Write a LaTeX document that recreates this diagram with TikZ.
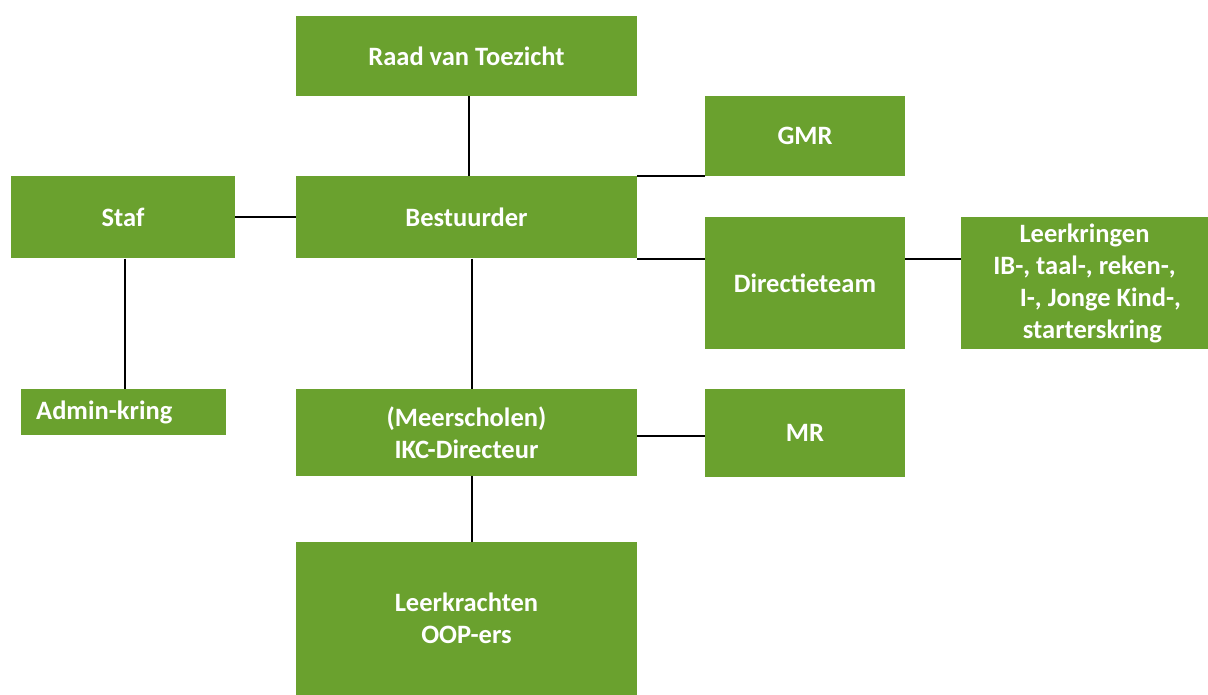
\documentclass[tikz,border=0pt]{standalone}
\usepackage{fontspec}
\setmainfont{Carlito}
\definecolor{orggreen}{RGB}{106,161,46}
\tikzset{
  orgbox/.style={fill=orggreen, text=white, inner sep=0pt, align=center,
    font=\fontsize{26.5}{32}\selectfont\bfseries},
  orgline/.style={line width=2pt, black}
}
\begin{document}
\begin{tikzpicture}[x=1pt, y=-1pt, line join=round]
			\useasboundingbox (0,0) rectangle (1208,695);
			\node[orgbox, minimum width=341pt, minimum height=80pt] (raad) at (466.5,56) {Raad van Toezicht};
			\node[orgbox, minimum width=200pt, minimum height=80pt] (gmr) at (805,136) {GMR};
			\node[orgbox, minimum width=224pt, minimum height=82pt] (staf) at (123,217.5) {Staf};
			\node[orgbox, minimum width=341pt, minimum height=82pt] (best) at (466.5,217.5) {Bestuurder};
			\node[orgbox, minimum width=200pt, minimum height=132pt] (dir) at (805,283) {Directieteam};
			\node[orgbox, minimum width=247pt, minimum height=132pt] (kring) at (1084.5,283) {Leerkringen\\IB-, taal-, reken-,\\\hspace{1.2em}I-, Jonge Kind-,\\\hspace{0.6em}starterskring};
			\node[orgbox, anchor=north west, minimum height=46pt, text width=175pt, inner xsep=15pt, align=left] (admin) at (21,389) {\raisebox{3pt}{Admin-kring}};
			\node[orgbox, minimum width=341pt, minimum height=87pt] (ikc) at (466.5,432.5) {(Meerscholen)\\IKC-Directeur};
			\node[orgbox, minimum width=200pt, minimum height=88pt] (mr) at (805,433) {MR};
			\node[orgbox, minimum width=341pt, minimum height=153pt] (lk) at (466.5,618.5) {Leerkrachten\\OOP-ers};
			\coordinate (dirline) at (best.south east -| dir.west);
			\draw[orgline] ([xshift=2.5pt]raad.south) -- ([xshift=2.5pt]best.north);
			\draw[orgline] (staf.east) -- (best.west);
			\draw[orgline] ([xshift=2pt]staf.south) -- ([xshift=2pt]staf.south |- admin.north);
			\draw[orgline] (best.north east) -- (best.north east -| gmr.west);
			\draw[orgline] (best.south east) -- (dirline);
			\draw[orgline] (best.south east -| dir.east) -- (best.south east -| kring.west);
			\draw[orgline] ([xshift=5.5pt]best.south) -- ([xshift=5.5pt]ikc.north);
			\draw[orgline] ([yshift=-3pt]ikc.east) -- ([yshift=-3pt]ikc.east -| mr.west);
			\draw[orgline] ([xshift=5.5pt]ikc.south) -- ([xshift=5.5pt]lk.north);
		\end{tikzpicture}
\end{document}
